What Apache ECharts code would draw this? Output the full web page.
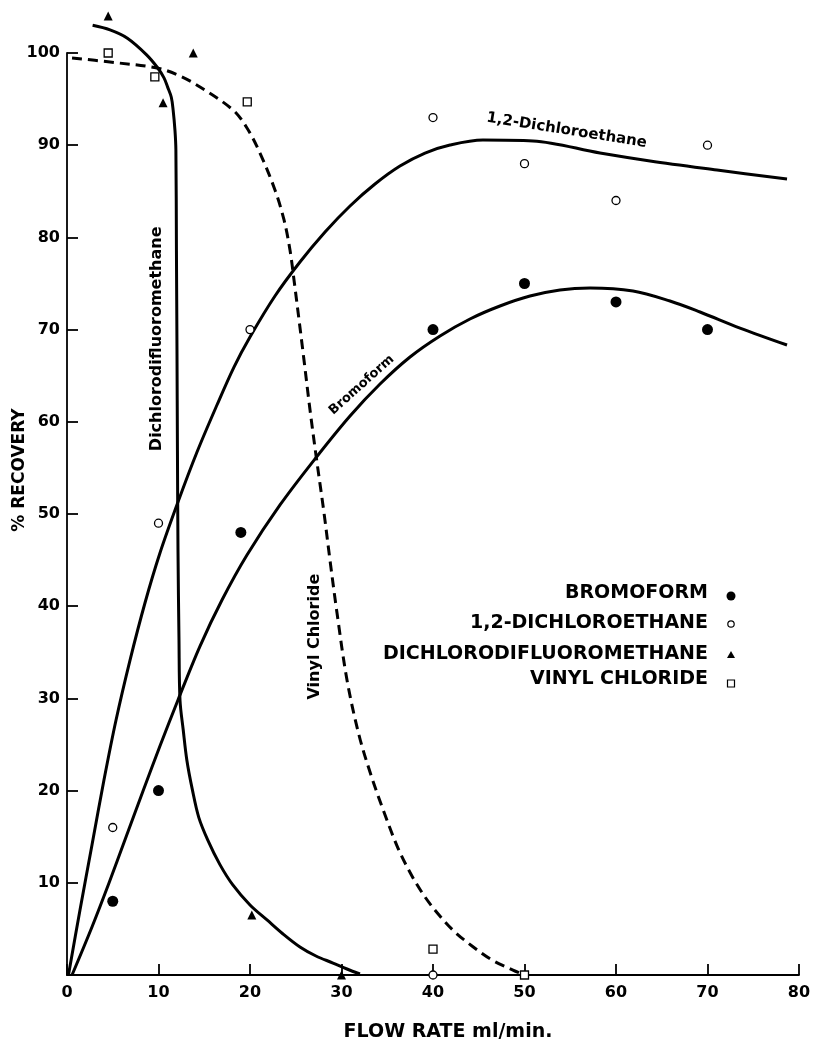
<!DOCTYPE html>
<html><head><meta charset="utf-8">
<script src="https://cdn.jsdelivr.net/npm/echarts@6/dist/echarts.min.js"></script>
<style>html,body{margin:0;padding:0;background:#fff}#c{width:815px;height:1041px}</style>
</head><body><div id="c"></div>
<script>
// ---- tick settings ----
const xTickMin = 0, xTickMax = 80, xTickStep = 10;
const yTickMin = 0, yTickMax = 100, yTickStep = 10;

// ---- measured points ----
const bromoformPts = [[5,8],[10,20],[19,48],[40,70],[50,75],[60,73],[70,70]];
const dichloroethanePts = [[5,16],[10,49],[20,70],[40,93],[50,88],[60,84],[70,90],[40,0]];
const difluoromethanePts = [[4.5,104],[10.5,94.6],[13.8,100],[20.2,6.5],[30,0]];
const vinylChloridePts = [[4.5,100],[9.6,97.4],[19.7,94.7],[40,2.8],[50,0]];

// ---- fitted curves ----
const bromoformCurve = [[0.55,0],[2.73,5.21],[4.59,9.98],[6.45,14.97],[8.31,19.96],[10.16,24.84],[12.13,29.83],[14.54,35.68],[16.94,40.67],[19.67,45.55],[23.28,50.98],[27.1,55.97],[30.93,60.63],[34.21,64.1],[37.49,67.03],[40.77,69.31],[44.04,71.15],[47.32,72.56],[50.6,73.64],[53.88,74.3],[57.16,74.51],[61.86,74.19],[65.9,73.1],[69.18,71.91],[73.55,70.17],[78.69,68.33]];
const dichloroethaneCurve = [[0.16,0],[1.42,7.05],[2.73,14.1],[4.04,21.15],[5.36,27.66],[6.89,34.16],[8.52,40.35],[10.16,45.77],[12.13,51.3],[14.21,56.72],[16.39,61.82],[18.25,65.94],[20,69.2],[22.73,73.64],[25.46,77.33],[28.2,80.59],[30.93,83.41],[33.66,85.79],[36.39,87.74],[39.13,89.15],[41.86,90.02],[45.46,90.56],[50.93,90.46],[58.25,89.15],[63.72,88.29],[71.04,87.31],[78.69,86.33]];
const difluoromethaneCurve = [[2.8,103],[4.7,102.5],[6.6,101.6],[8.7,99.8],[9.9,98.4],[10.6,97.3],[11,96.3],[11.4,95.2],[11.6,93.8],[11.8,91.6],[11.9,89.5],[11.96,78.6],[12.02,67.8],[12.07,56.9],[12.13,46.1],[12.24,36.3],[12.35,29.8],[12.7,26.6],[13.1,23.3],[13.7,20.1],[14.4,17.1],[15.4,14.6],[16.7,12],[18.1,9.8],[20,7.6],[21.86,5.97],[23.61,4.45],[25.46,3.04],[27.21,2.06],[29.07,1.3],[30.6,0.65],[32.02,0.11]];
const vinylChlorideCurve = [[0.55,99.46],[4.7,99.02],[9.84,98.37],[12.35,97.51],[14.54,96.31],[18.14,93.82],[19.67,91.87],[21.09,89.15],[22.73,85.14],[23.72,81.89],[24.37,78.63],[24.81,75.38],[25.36,71.04],[25.9,66.7],[26.56,61.28],[27.21,56.4],[28.09,50.11],[28.74,45.01],[29.51,39.26],[30.6,32],[31.91,26.03],[33.22,21.69],[34.64,17.68],[36.17,13.77],[37.7,10.74],[39.13,8.46],[40.66,6.51],[42.4,4.66],[44.26,3.15],[46.45,1.63],[48.74,0.54],[49.73,0.11]];

// ---- texts ----
const legendNames = ['BROMOFORM','1,2-DICHLOROETHANE','DICHLORODIFLUOROMETHANE','VINYL CHLORIDE'];
const curveLabels = ['Bromoform','1,2-Dichloroethane','Dichlorodifluoromethane','Vinyl Chloride'];
const xTitle = 'FLOW RATE ml/min.';
const yTitle = '% RECOVERY';

const FONT = '"DejaVu Sans", sans-serif';
const chart = echarts.init(document.getElementById('c'), null, {renderer:'canvas'});

function curve(name, data, dashed) {
  return {
    name: name, type: 'line', data: data, smooth: 0.34, showSymbol: false, clip: false, silent: true,
    lineStyle: {color: '#000', width: 3, type: dashed ? [10, 6] : 'solid', cap: 'butt', join: 'round'}
  };
}
function pts(name, data, symbol, size, filled) {
  return {
    name: name, type: 'scatter', data: data, symbol: symbol, symbolSize: size, clip: false, z: 5,
    itemStyle: {color: filled ? '#000' : '#fff', borderColor: '#000', borderWidth: filled ? 0 : 1.3, opacity: 1}
  };
}

const option = {
  animation: false,
  backgroundColor: '#fff',
  grid: {left: 67, right: 16, top: 53, bottom: 66, containLabel: false},
  xAxis: {
    type: 'value', min: xTickMin, max: xTickMax, interval: xTickStep,
    axisLine: {onZero: false, lineStyle: {color: '#000', width: 1.8}},
    axisTick: {inside: true, length: 11, lineStyle: {color: '#000', width: 1.8}},
    axisLabel: {color: '#000', fontFamily: FONT, fontWeight: 'bold', fontSize: 16, margin: 10},
    splitLine: {show: false}
  },
  yAxis: {
    type: 'value', min: yTickMin, max: yTickMax, interval: yTickStep,
    axisLine: {show: true, lineStyle: {color: '#000', width: 1.8}},
    axisTick: {show: true, inside: true, length: 11, lineStyle: {color: '#000', width: 1.8}},
    axisLabel: {color: '#000', fontFamily: FONT, fontWeight: 'bold', fontSize: 16, margin: 7,
      formatter: v => v === 0 ? '' : String(v)},
    splitLine: {show: false}
  },
  series: [
    curve('Bromoform curve', bromoformCurve, false),
    curve('1,2-Dichloroethane curve', dichloroethaneCurve, false),
    curve('Dichlorodifluoromethane curve', difluoromethaneCurve, false),
    curve('Vinyl chloride curve', vinylChlorideCurve, true),
    pts(legendNames[0], bromoformPts, 'circle', 11, true),
    pts(legendNames[1], dichloroethanePts, 'circle', 8, false),
    pts(legendNames[2], difluoromethanePts, 'triangle', 9, true),
    pts(legendNames[3], vinylChloridePts, 'rect', 8, false)
  ]
};
chart.setOption(option);

// ---- annotations placed through the axes ----
const P = (x, y) => chart.convertToPixel({gridIndex: 0}, [x, y]);
const deg = d => d * Math.PI / 180;
function label(text, at, rot, size) {
  const p = P(at[0], at[1]);
  return {type: 'text', x: p[0], y: p[1], rotation: deg(rot), z: 10,
    style: {text: text, x: 0, y: 0, align: 'center', verticalAlign: 'middle',
      font: 'bold ' + size + 'px ' + FONT, fill: '#000'}};
}
const g = [];
g.push(label(curveLabels[0], [32.2, 64.0], 42, 13));
g.push(label(curveLabels[1], [54.6, 91.6], -9, 15));
g.push(label(curveLabels[2], [9.8, 69], 90, 16));
g.push(label(curveLabels[3], [27.1, 36.7], 90, 16));

// legend block
const legendRows = [593, 623, 654, 679];
const legendTextRight = 708, legendMarkX = 731;
legendNames.forEach((n, i) => {
  g.push({type: 'text', x: legendTextRight, y: legendRows[i], z: 10,
    style: {text: n, align: 'right', verticalAlign: 'middle', font: 'bold 19px ' + FONT, fill: '#000'}});
});
g.push({type: 'circle', shape: {cx: legendMarkX, cy: legendRows[0] + 3, r: 4.5}, style: {fill: '#000'}, z: 10});
g.push({type: 'circle', shape: {cx: legendMarkX, cy: legendRows[1] + 1, r: 3.2}, style: {fill: '#fff', stroke: '#000', lineWidth: 1.2}, z: 10});
g.push({type: 'polygon', shape: {points: [[legendMarkX, legendRows[2] - 3], [legendMarkX + 4, legendRows[2] + 4], [legendMarkX - 4, legendRows[2] + 4]]}, style: {fill: '#000'}, z: 10});
g.push({type: 'rect', shape: {x: legendMarkX - 3.5, y: legendRows[3] + 1, width: 7, height: 7}, style: {fill: '#fff', stroke: '#000', lineWidth: 1.2}, z: 10});

// axis titles
g.push({type: 'text', x: 20, y: 470, rotation: deg(90), z: 10,
  style: {text: yTitle, x: 0, y: 0, align: 'center', verticalAlign: 'middle', font: 'bold 17px ' + FONT, fill: '#000'}});
g.push({type: 'text', x: 448, y: 1032, z: 10,
  style: {text: xTitle, x: 0, y: 0, align: 'center', verticalAlign: 'middle', font: 'bold 19px ' + FONT, fill: '#000'}});

chart.setOption({graphic: {elements: g}});
</script></body></html>
